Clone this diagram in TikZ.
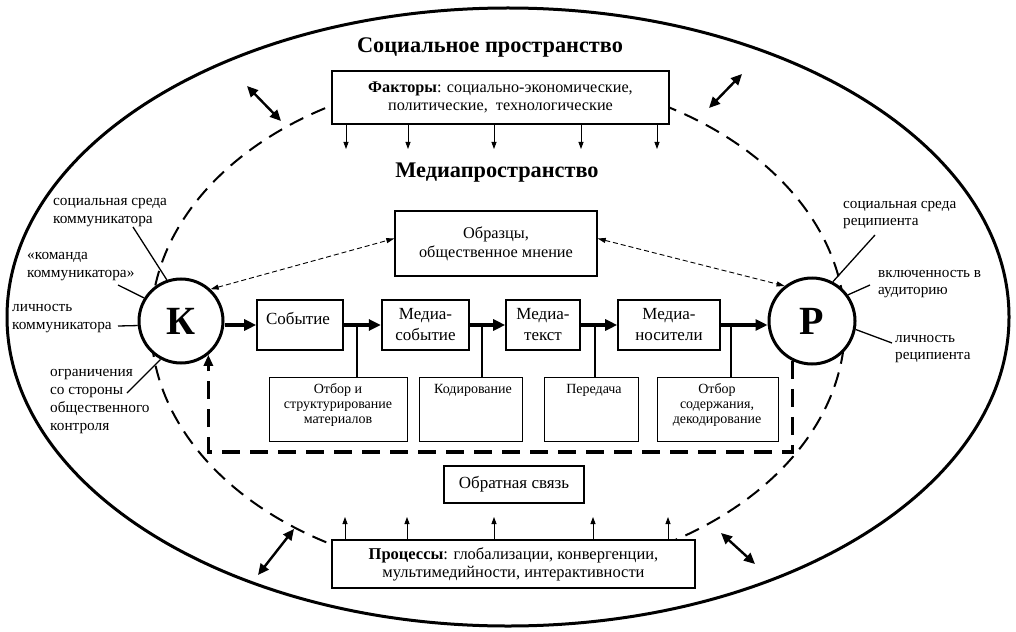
\documentclass[tikz,border=0pt]{standalone}
\usepackage{fontspec}
\setmainfont{Liberation Serif}
\usetikzlibrary{arrows.meta}
\begin{document}
\begin{tikzpicture}[x=1pt,y=-1pt,
  boxbase/.style={draw, fill=white, inner sep=0pt},
  topbox/.style={boxbase, line width=1.1pt, align=center, font=\fontsize{16.2}{18}\selectfont},
  chainbox/.style={boxbase, line width=1.6pt, minimum height=50pt, align=center, font=\fontsize{17}{21}\selectfont},
  subbox/.style={boxbase, line width=0.8pt, minimum height=64pt},
  subtext/.style={anchor=north, inner sep=0pt, align=center, font=\fontsize{14}{15}\selectfont},
  roundnode/.style={draw, circle, fill=white, line width=3pt, minimum size=84pt, inner sep=0pt, font=\fontsize{40}{40}\selectfont\bfseries},
  lab/.style={anchor=north west, inner sep=0pt, align=left, font=\fontsize{15.3}{18}\selectfont},
  rlab/.style={anchor=north west, inner sep=0pt, align=left, font=\fontsize{15.2}{17.5}\selectfont},
  titletext/.style={font=\fontsize{22.3}{25}\selectfont\bfseries, inner sep=0pt},
  bigarrow/.style={line width=3.5pt, -{Triangle[length=12pt,width=11pt]}},
  smallarrow/.style={line width=0.8pt, -{Triangle[length=7pt,width=5pt]}},
  dblarrow/.style={line width=2.4pt, {Triangle[length=11pt,width=10pt]}-{Triangle[length=11pt,width=10pt]}},
  dasharrow/.style={line width=0.9pt, dash pattern=on 5pt off 3pt, {Triangle[length=8pt,width=5pt]}-{Triangle[length=8pt,width=5pt]}},
  fbline/.style={line width=3.3pt, dash pattern=on 18pt off 10pt},
  tie/.style={line width=1.3pt},
  tie2/.style={line width=1.2pt},
]
\fill[white] (0,0) rectangle (1016,631);
\useasboundingbox (0,0) rectangle (1016,631);

% ellipses
\draw[line width=3pt] (508,317) ellipse [x radius=501, y radius=309];
\draw[line width=2pt, dash pattern=on 15pt off 9pt] (498,325) ellipse [x radius=347, y radius=250];

% titles
\node[titletext] (soc) at (490,47) {Социальное пространство};
\node[titletext] (med) at (497,173) {Медиапространство};

% top and bottom boxes
\node[topbox, minimum width=337pt, minimum height=53pt] (fac) at (500.5,97.5)
  {\textbf{Факторы}: социально-экономические,\\политические,\ \ технологические};
\node[topbox, minimum width=363pt, minimum height=48pt, font=\fontsize{16.5}{18}\selectfont] (proc) at (513.5,564)
  {\textbf{Процессы}: глобализации, конвергенции,\\мультимедийности, интерактивности};
\node[topbox, minimum width=140pt, minimum height=37pt, font=\fontsize{17}{18}\selectfont] (obr) at (514,484.5) {Обратная связь};
\node[topbox, minimum width=202pt, minimum height=65pt, line width=1.4pt, font=\fontsize{16.3}{19}\selectfont] (obz) at (496,243.5)
  {Образцы,\\общественное мнение};

% small arrows
\foreach \x in {346,408,494,581,657} {
  \coordinate (d\x) at (\x,149);
  \draw[smallarrow] (d\x |- fac.south) -- (d\x);
}
\foreach \x in {345,407,494,593,668} {
  \coordinate (u\x) at (\x,517);
  \draw[smallarrow] (u\x |- proc.north) -- (u\x);
}

% double arrows
\coordinate (da1) at (247,86);  \coordinate (da2) at (281,121);
\coordinate (db1) at (742,74);  \coordinate (db2) at (709,108);
\coordinate (dc1) at (294,529); \coordinate (dc2) at (258,575);
\coordinate (dd1) at (721,533); \coordinate (dd2) at (755,564);
\draw[dblarrow] (da1) -- (da2);
\draw[dblarrow] (db1) -- (db2);
\draw[dblarrow] (dc1) -- (dc2);
\draw[dblarrow] (dd1) -- (dd2);

% chain boxes
\node[chainbox, minimum width=86pt] (ev) at (300,325) {};
\node[inner sep=0pt, font=\fontsize{17}{21}\selectfont] (evt) at (298,318) {Событие};
\node[chainbox, minimum width=87pt, line width=2.4pt] (me) at (425.5,325) {Медиа-\\событие};
\node[chainbox, minimum width=74pt] (mt) at (543,325) {Медиа-\\текст};
\node[chainbox, minimum width=102pt] (mn) at (669,325) {Медиа-\\носители};

% sub boxes
\node[subbox, minimum width=138pt] (s1) at (338,409) {};
\node[subbox, minimum width=103pt] (s2) at (470.5,409) {};
\node[subbox, minimum width=94pt] (s3) at (591,409) {};
\node[subbox, minimum width=121pt] (s4) at (717.5,409) {};
\node[subtext] (s1t) at (338,383) {\strut Отбор и\\структурирование\\материалов};
\node[subtext] (s2t) at (473,383) {\strut Кодирование};
\node[subtext] (s3t) at (594,383) {\strut Передача};
\node[subtext] (s4t) at (717,383) {\strut Отбор\\содержания,\\декодирование};

% circles
\node[roundnode] (K) at (181,321) {К};
\node[roundnode, minimum size=86pt] (P) at (812,321) {Р};

% main arrows
\draw[bigarrow] (K.east |- ev.west) -- (ev.west);
\draw[bigarrow] (ev.east) -- (me.west);
\draw[bigarrow] (me.east) -- (mt.west);
\draw[bigarrow] (mt.east) -- (mn.west);
\draw[bigarrow] (mn.east) -- (P.west |- mn.east);

% connectors to sub boxes
\coordinate (c1) at (357,325);
\coordinate (c2) at (482,325);
\coordinate (c3) at (595,325);
\coordinate (c4) at (731,325);
\draw[tie2] (c1) -- (c1 |- s1.north);
\draw[tie2] (c2) -- (c2 |- s2.north);
\draw[tie2] (c3) -- (c3 |- s3.north);
\draw[tie2] (c4) -- (c4 |- s4.north);

% dashed arrows to obz
\draw[dasharrow] (K.47) -- ([yshift=5pt]obz.west);
\draw[dasharrow] ([yshift=5pt]obz.east) -- (P.128);

% feedback
\coordinate (fb) at (0,452);
\draw[fbline, -{Triangle[length=11pt,width=9pt]}] (P.244) -- (P.244 |- fb) -- (K.309 |- fb) -- (K.309);

% labels left
\node[lab] (l1) at (53,192.6) {\strut социальная среда\\коммуникатора};
\node[lab] (l2) at (27,246.6) {\strut «команда\\коммуникатора»};
\node[lab] (l3) at (12,298.6) {\strut личность\\коммуникатора};
\node[lab] (l4) at (50,363.6) {\strut ограничения\\со стороны\\общественного\\контроля};
% labels right
\node[rlab] (r1) at (843,196) {\strut социальная среда\\реципиента};
\node[rlab] (r2) at (878,265) {\strut включенность в\\аудиторию};
\node[rlab] (r3) at (895,330) {\strut личность\\реципиента};

% ties
\coordinate (t1) at (133,227);
\coordinate (t2) at (118,285);
\coordinate (t3) at (118,326);
\coordinate (t4) at (127,393);
\coordinate (t5) at (875,235);
\coordinate (t6) at (870,285);
\coordinate (t7) at (892,343);
\draw[tie] (t1) -- (K.109);
\draw[tie] (t2) -- (K.148);
\draw[tie] (t3) -- (K.186);
\draw[tie] (t4) -- (K.242);
\draw[tie] (t5) -- (P.62);
\draw[tie] (t6) -- (P.36);
\draw[tie] (t7) -- (P.349);
\end{tikzpicture}
\end{document}
